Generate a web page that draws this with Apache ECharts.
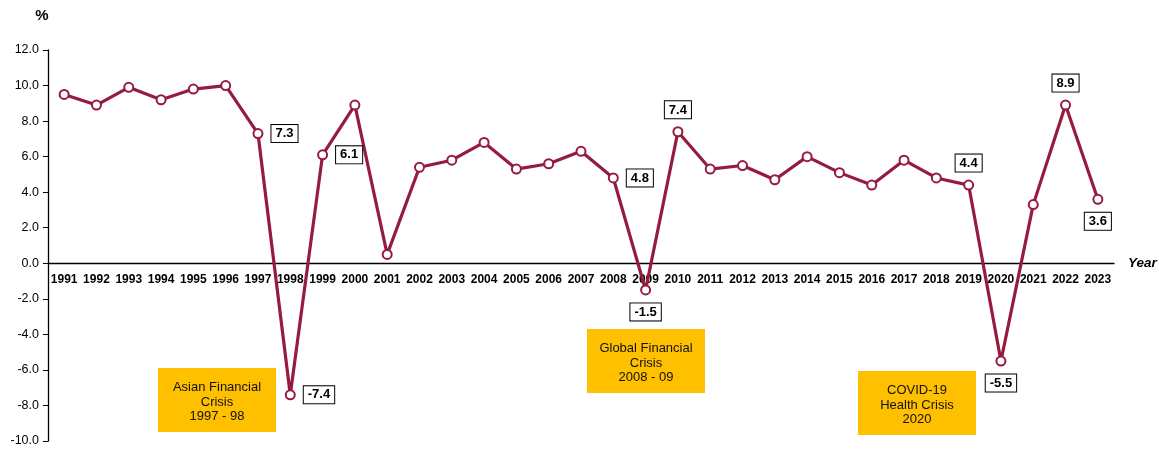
<!DOCTYPE html>
<html>
<head>
<meta charset="utf-8">
<script src="https://cdn.jsdelivr.net/npm/echarts@6/dist/echarts.min.js"></script>
<style>html,body{margin:0;padding:0;background:#fff;}#c{width:1159px;height:450px;}</style>
</head>
<body>
<div id="c"></div>
<script>
const years = ['1991','1992','1993','1994','1995','1996','1997','1998','1999','2000','2001','2002','2003','2004','2005','2006','2007','2008','2009','2010','2011','2012','2013','2014','2015','2016','2017','2018','2019','2020','2021','2022','2023'];
const growth = [9.5,8.9,9.9,9.2,9.8,10.0,7.3,-7.4,6.1,8.9,0.5,5.4,5.8,6.8,5.3,5.6,6.3,4.8,-1.5,7.4,5.3,5.5,4.7,6.0,5.1,4.4,5.8,4.8,4.4,-5.5,3.3,8.9,3.6];
const yTicks = {min:-10, max:12, step:2};
const labelled = {'1997':'right','1998':'right','1999':'right','2008':'right','2009':'bottom','2010':'top','2019':'top','2020':'bottom','2022':'top','2023':'bottom'};
const crises = [
  {text:'Asian Financial\nCrisis\n1997 - 98', x:158, y:368},
  {text:'Global Financial\nCrisis\n2008 - 09', x:587, y:329},
  {text:'COVID-19\nHealth Crisis\n2020', x:858, y:371}
];

const lineColor = '#951B3F';
const gridTop = 50, gridBottom = 9, H = 450;
const gridH = H - gridTop - gridBottom;
const zeroOffset = gridH * (0 - yTicks.min) / (yTicks.max - yTicks.min);

const data = growth.map((v,i)=>{
  const pos = labelled[years[i]];
  const d = {value:v};
  if (pos) {
    d.label = {show:true, position:pos, distance:8, formatter:(p)=>p.value.toFixed(1),
      backgroundColor:'#fff', borderColor:'#000', borderWidth:1, padding:[2,4,1,4],
      color:'#000', fontWeight:'bold', fontSize:13, fontFamily:'Liberation Sans, Arial', lineHeight:14};
  }
  return d;
});

const chart = echarts.init(document.getElementById('c'), null, {renderer:'canvas'});
const graphics = [];
crises.forEach(c=>{
  graphics.push({type:'rect', left:c.x, top:c.y, shape:{width:118,height:64}, style:{fill:'#FFC000'}, z:1});
  graphics.push({type:'text', x:c.x+59, y:c.y+34, style:{text:c.text, fill:'#111', font:'13px Liberation Sans, Arial', align:'center', verticalAlign:'middle', lineHeight:14.5}, z:2});
});
graphics.push({type:'text', x:42, y:16, style:{text:'%', fill:'#000', font:'bold 15px Liberation Sans, Arial', align:'center', verticalAlign:'middle'}});

chart.setOption({
  animation:false,
  backgroundColor:'#fff',
  grid:{left:48, right:45, top:gridTop, bottom:gridBottom, containLabel:false, outerBoundsMode:'none'},
  xAxis:{
    type:'category', data:years, boundaryGap:true, position:'bottom', offset:-zeroOffset,
    axisLine:{onZero:false, lineStyle:{color:'#000', width:1.3}},
    axisTick:{show:false},
    axisLabel:{color:'#000', fontWeight:'bold', fontSize:12, fontFamily:'Liberation Sans, Arial', margin:10, interval:0},
    splitLine:{show:false},
    name:'Year', nameLocation:'end', nameGap:14,
    nameTextStyle:{color:'#000', fontWeight:'bold', fontStyle:'italic', fontSize:13.5, fontFamily:'Liberation Sans, Arial', padding:[3,0,0,0]}
  },
  yAxis:{
    type:'value', min:yTicks.min, max:yTicks.max, interval:yTicks.step,
    axisLine:{show:true, onZero:false, lineStyle:{color:'#000', width:1.3}},
    axisTick:{show:true, length:5, lineStyle:{color:'#000'}},
    axisLabel:{color:'#000', fontSize:12.5, fontFamily:'Liberation Sans, Arial', margin:9, formatter:(v)=>v.toFixed(1)},
    splitLine:{show:false}
  },
  graphic:graphics,
  series:[{
    type:'line', data:data, z:5,
    lineStyle:{color:lineColor, width:3.2},
    itemStyle:{color:'#fff', borderColor:lineColor, borderWidth:2},
    symbol:'circle', symbolSize:9, showAllSymbol:true,
    label:{show:false}
  }]
});
</script>
</body>
</html>
